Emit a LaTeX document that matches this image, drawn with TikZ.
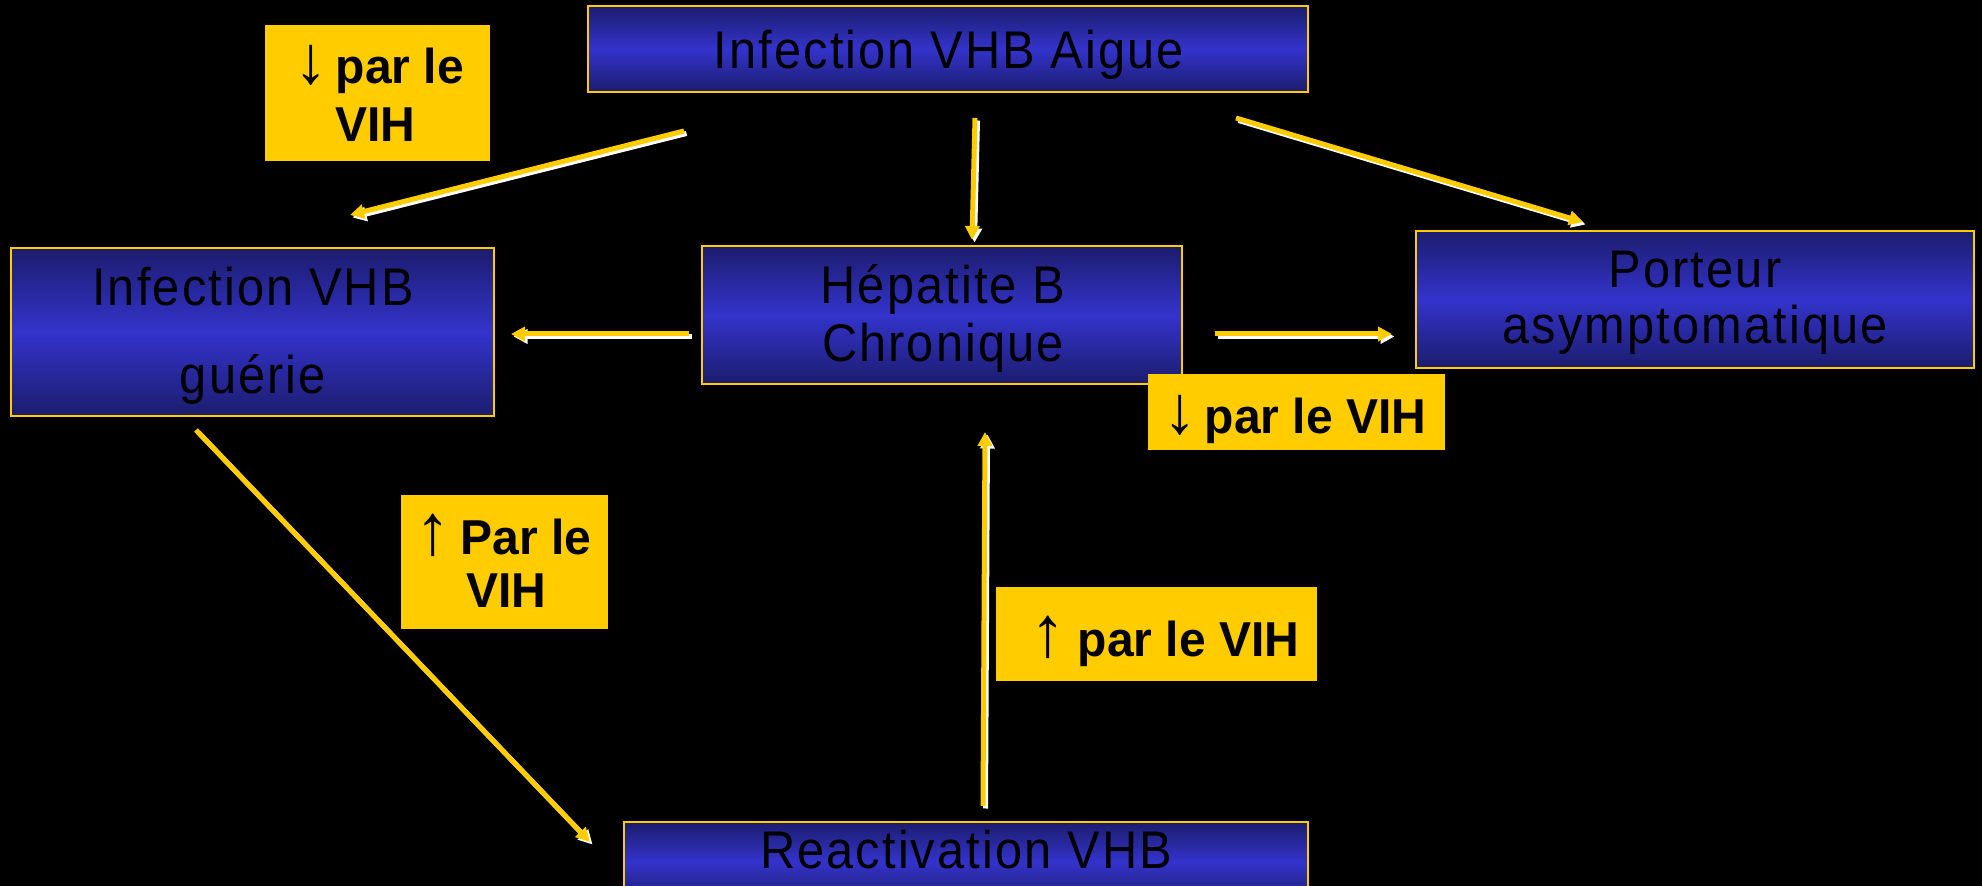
\documentclass[tikz,border=0pt]{standalone}
\usepackage{fontspec}
\setmainfont{Liberation Sans}
\newfontfamily\boxfont[FakeStretch=0.92,LetterSpace=4]{Liberation Sans}
\newfontfamily\labfont[FakeStretch=0.98]{Liberation Sans}
\usetikzlibrary{arrows.meta}
\definecolor{gold}{HTML}{FFCC00}
\definecolor{navy}{HTML}{1C1C6E}
\definecolor{bblue}{HTML}{3333CC}
\tikzset{
  vbox/.style={draw=gold, line width=1pt, top color=navy, bottom color=navy, middle color=bblue, inner sep=0pt},
  vtext/.style={inner sep=0pt, anchor=base, text=black, font=\boxfont\fontsize{26.5}{26.5}\selectfont},
  lab/.style={fill=gold, inner sep=0pt},
  ltext/.style={inner sep=0pt, anchor=base west, text=black, font=\labfont\bfseries\fontsize{24.5}{24.5}\selectfont},
  yarr/.style={draw=gold, line width=2.5pt, -{Triangle[length=7pt,width=7pt]}},
  warr/.style={draw=white, line width=2.5pt, -{Triangle[length=7pt,width=7pt]}},
}
\newcommand{\darr}{{\mdseries\fontsize{34}{34}\selectfont ↓}}
\newcommand{\uarr}{{\mdseries\fontsize{36}{36}\selectfont ↑}}
\newcommand{\sarrow}[2]{%
  \draw[warr] ([shift={(2.5,2.5)}]#1) -- ([shift={(2.5,2.5)}]#2);
  \draw[yarr] (#1) -- (#2);}
\begin{document}
\begin{tikzpicture}[x=0.5pt,y=-0.5pt]
\fill[black] (0,0) rectangle (1982,886);
\useasboundingbox (0,0) rectangle (1982,886);
% boxes
\node[vbox, minimum width=360pt, minimum height=43pt] (aigue) at (948,49) {};
\node[vbox, minimum width=241.5pt, minimum height=84pt] (guerie) at (252.5,332) {};
\node[vbox, minimum width=240pt, minimum height=69pt] (hepat) at (942,315) {};
\node[vbox, minimum width=279pt, minimum height=68.5pt] (porteur) at (1695,299.5) {};
\node[vbox, minimum width=342pt, minimum height=40pt] (react) at (966,862) {};
% box texts
\node[vtext] (aiguet) at (949,69) {Infection VHB Aigue};
\node[vtext] (gueriet1) at (253,306) {Infection VHB};
\node[vtext] (gueriet2) at (253,394) {guérie};
\node[vtext] (hepatt1) at (943,304) {Hépatite B};
\node[vtext] (hepatt2) at (943,362) {Chronique};
\node[vtext] (porteurt1) at (1695,288) {Porteur};
\node[vtext] (porteurt2) at (1695,344) {asymptomatique};
\node[vtext] (reactt) at (966,869) {Reactivation VHB};
% labels
\node[lab, minimum width=112.5pt, minimum height=68pt] (l1) at (377.5,93) {};
\node[ltext] (l1a) at (294,84) {\darr\hspace{4pt}par le};
\node[ltext] (l1b) at (335,142) {VIH};
\node[lab, minimum width=148.5pt, minimum height=38pt] (l2) at (1296.5,412) {};
\node[ltext] (l2a) at (1163,434) {\darr\hspace{4pt}par le VIH};
\node[lab, minimum width=103.5pt, minimum height=67pt] (l3) at (504.5,562) {};
\node[ltext] (l3a) at (415,555) {\uarr\hspace{5pt}Par le};
\node[ltext] (l3b) at (466,608) {VIH};
\node[lab, minimum width=160.5pt, minimum height=47pt] (l4) at (1156.5,634) {};
\node[ltext] (l4a) at (1030,657) {\uarr\hspace{6pt}par le VIH};
% arrow end points
\coordinate (a1s) at (684,131); \coordinate (a1e) at (350,215);
\coordinate (a2s) at (975,118); \coordinate (a2e) at (972,240);
\coordinate (a3s) at (1236,118); \coordinate (a3e) at (1583,222);
\coordinate (a4s) at (689,334); \coordinate (a4e) at (511,334);
\coordinate (a5s) at (1215,334); \coordinate (a5e) at (1392,334);
\coordinate (a6s) at (196,430); \coordinate (a6e) at (590,842);
\coordinate (a7s) at (983,806); \coordinate (a7e) at (985,432);
\sarrow{a1s}{a1e}
\sarrow{a2s}{a2e}
\sarrow{a3s}{a3e}
\sarrow{a4s}{a4e}
\sarrow{a5s}{a5e}
\sarrow{a6s}{a6e}
\sarrow{a7s}{a7e}
\end{tikzpicture}
\end{document}
